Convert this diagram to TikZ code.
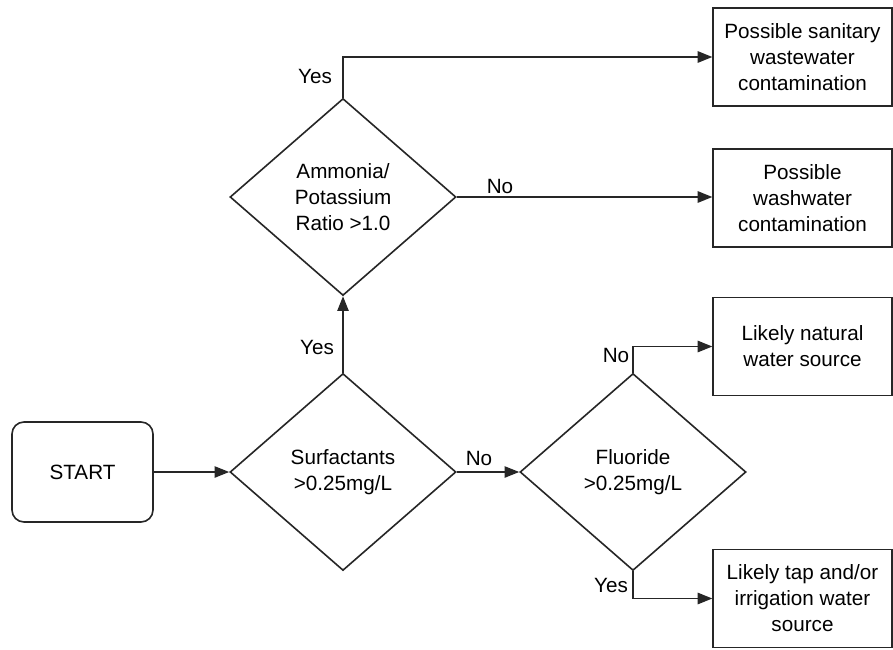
\documentclass[tikz,border=0pt]{standalone}
\usepackage{fontspec}
\setmainfont{Liberation Sans}
\usetikzlibrary{shapes.geometric,arrows.meta}
\begin{document}
\begin{tikzpicture}[x=0.75pt,y=-0.75pt,
  every node/.style={font=\fontsize{15.5}{19.5}\selectfont},
  line/.style={draw=black!85, line width=1.2pt},
  arr/.style={line, -{Triangle[length=11pt,width=8.5pt]}},
  dec/.style={line, diamond, inner sep=0pt, minimum width=169.5pt, minimum height=147.75pt, align=center},
  outbox/.style={line, rectangle, minimum width=134pt, minimum height=73.5pt, align=center, inner sep=0pt},
  startbox/.style={line, rectangle, rounded corners=9pt, minimum width=105.75pt, minimum height=75pt},
  lbl/.style={inner sep=0pt}
]
\useasboundingbox (0,0) rectangle (893,650);
\fill[white] (0,0) rectangle (893,650);

\node[startbox] (start) at (82.5,472) {START};
\node[dec] (surf) at (343,472) {Surfactants\\>0.25mg/L};
\node[dec] (amm) at (343,197) {Ammonia/\\Potassium\\Ratio >1.0};
\node[dec] (fluo) at (633,472) {Fluoride\\>0.25mg/L};

\node[outbox] (b1) at (802.5,57) {Possible sanitary\\wastewater\\contamination};
\node[outbox] (b2) at (802.5,198) {Possible\\washwater\\contamination};
\node[outbox] (b3) at (802.5,346.5) {Likely natural\\water source};
\node[outbox] (b4) at (802.5,598.5) {Likely tap and/or\\irrigation water\\source};

\draw[arr] (start.east) -- (surf.west);
\draw[arr] (surf.east) -- (fluo.west);
\draw[arr] (surf.north) -- (amm.south);
\draw[arr] (amm.north) |- (b1.west);
\draw[arr] (amm.east) -- (amm.east -| b2.west);
\draw[arr] (fluo.north) |- (b3.west);
\draw[arr] (fluo.south) |- (b4.west);

\node[lbl] (y1) at (315,76) {Yes};
\node[lbl] (y2) at (317,347) {Yes};
\node[lbl] (n1) at (500,186) {No};
\node[lbl] (n2) at (479,458) {No};
\node[lbl] (n3) at (616,355) {No};
\node[lbl] (y3) at (611,585) {Yes};
\end{tikzpicture}
\end{document}
